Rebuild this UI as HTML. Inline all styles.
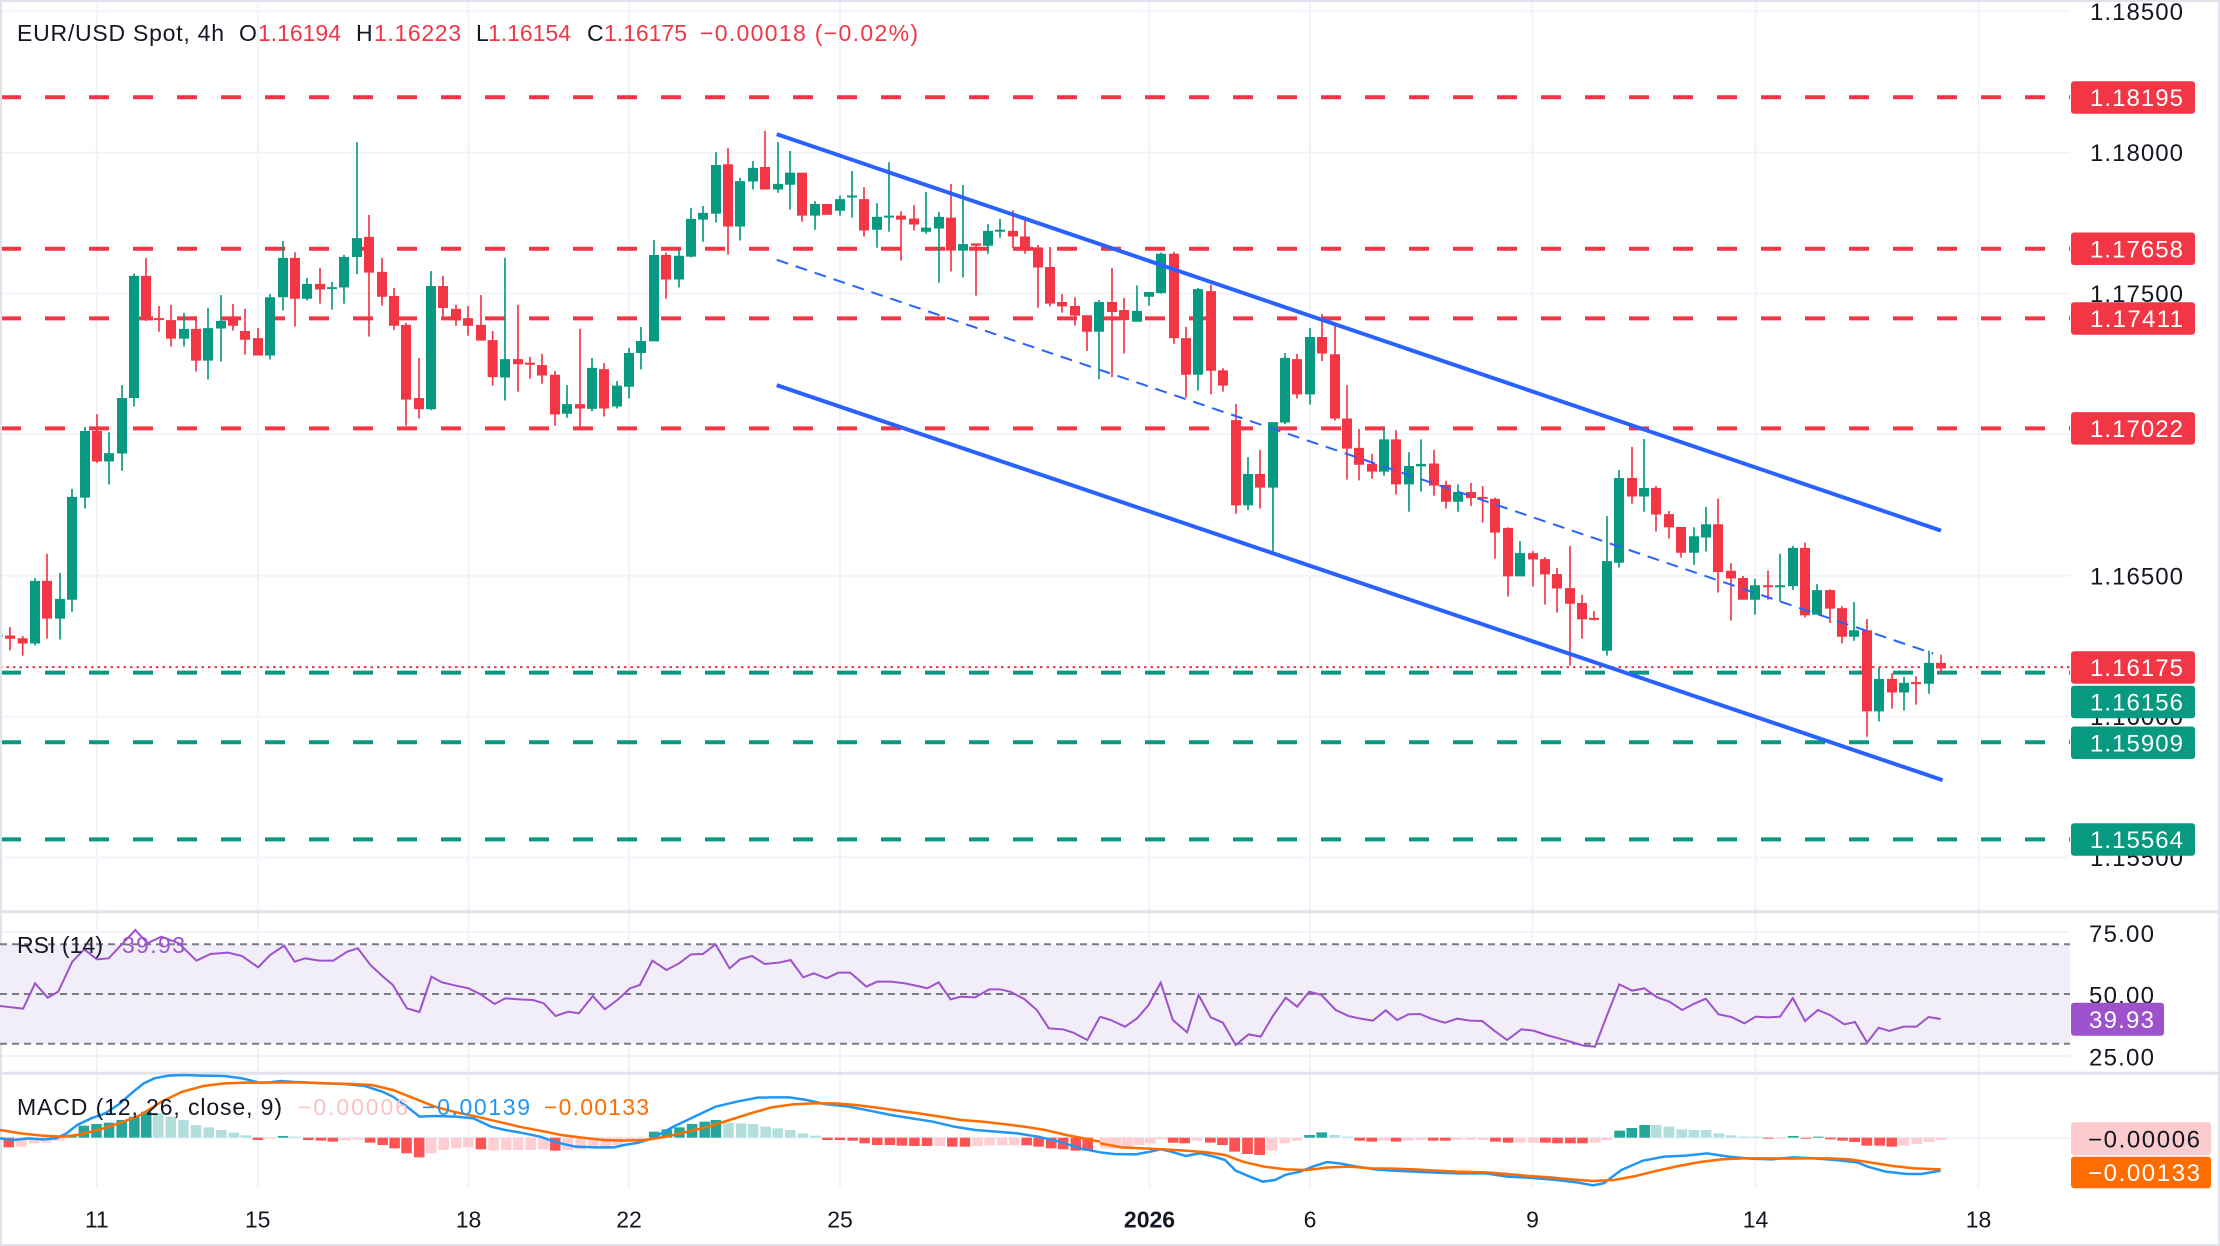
<!DOCTYPE html>
<html><head><meta charset="utf-8"><style>
html,body{margin:0;padding:0;background:#fff;}
svg{display:block;}
text{font-family:"Liberation Sans",Arial,sans-serif;}
</style></head><body>
<svg width="2220" height="1246" viewBox="0 0 2220 1246" xmlns="http://www.w3.org/2000/svg">
<rect x="0" y="0" width="2220" height="1246" fill="#ffffff"/>

<!-- gridlines -->
<g stroke="#f0f3fa" stroke-width="2">
<line x1="0" y1="11.2" x2="2070" y2="11.2"/>
<line x1="0" y1="152.6" x2="2070" y2="152.6"/>
<line x1="0" y1="293.5" x2="2070" y2="293.5"/>
<line x1="0" y1="433.8" x2="2070" y2="433.8"/>
<line x1="0" y1="575.8" x2="2070" y2="575.8"/>
<line x1="0" y1="716.6" x2="2070" y2="716.6"/>
<line x1="0" y1="857.5" x2="2070" y2="857.5"/>
<line x1="0" y1="931.7" x2="2070" y2="931.7"/>
<line x1="0" y1="1056" x2="2070" y2="1056"/>
<line x1="0" y1="1137.7" x2="2070" y2="1137.7"/>
<line x1="96.8" y1="0" x2="96.8" y2="1188"/>
<line x1="257.7" y1="0" x2="257.7" y2="1188"/>
<line x1="468.5" y1="0" x2="468.5" y2="1188"/>
<line x1="629" y1="0" x2="629" y2="1188"/>
<line x1="840" y1="0" x2="840" y2="1188"/>
<line x1="1149.5" y1="0" x2="1149.5" y2="1188"/>
<line x1="1310" y1="0" x2="1310" y2="1188"/>
<line x1="1532.5" y1="0" x2="1532.5" y2="1188"/>
<line x1="1755.5" y1="0" x2="1755.5" y2="1188"/>
<line x1="1978.5" y1="0" x2="1978.5" y2="1188"/>
</g>

<!-- level lines -->
<g stroke-width="4" stroke-dasharray="20 24">
<line x1="1" y1="97.2" x2="2070" y2="97.2" stroke="#f23645"/>
<line x1="1" y1="248.7" x2="2070" y2="248.7" stroke="#f23645"/>
<line x1="1" y1="318.4" x2="2070" y2="318.4" stroke="#f23645"/>
<line x1="1" y1="428.4" x2="2070" y2="428.4" stroke="#f23645"/>
<line x1="1" y1="672.6" x2="2070" y2="672.6" stroke="#089981"/>
<line x1="1" y1="742.2" x2="2070" y2="742.2" stroke="#089981"/>
<line x1="1" y1="839.4" x2="2070" y2="839.4" stroke="#089981"/>
</g>
<line x1="0" y1="667.1" x2="2070" y2="667.1" stroke="#f23645" stroke-width="2" stroke-dasharray="2.5 4"/>

<!-- candles zoom5 -->
<g transform="translate(0,120) scale(0.333333,0.401786)">
<path fill="#089981" d="M0,1281h8V1286h-8Z M102.5,1140h5V1308h-5Z M90,1147h30V1303h-30Z M177.5,1127h5V1293h-5Z M165,1192h30V1241h-30Z M213.5,918h5V1224h-5Z M201,938h30V1194h-30Z M252.5,764h5V967h-5Z M240,774h30V940h-30Z M324.5,777h5V907h-5Z M312,829h30V850h-30Z M363.5,660h5V873h-5Z M351,692h30V830h-30Z M399.5,382h5V713h-5Z M387,388h30V692h-30Z M549.5,480h5V564h-5Z M537,520h30V544h-30Z M621.5,468h5V646h-5Z M609,518h30V599h-30Z M660.5,436h5V601h-5Z M648,500h30V519h-30Z M807.5,433h5V596h-5Z M795,441h30V586h-30Z M846.5,301h5V474h-5Z M834,343h30V441h-30Z M918.5,393h5V449h-5Z M906,408h30V445h-30Z M993.5,403h5V472h-5Z M981,416h30V421h-30Z M1029.5,336h5V457h-5Z M1017,341h30V417h-30Z M1068.5,55h5V384h-5Z M1056,294h30V341h-30Z M1290.5,376h5V722h-5Z M1278,413h30V720h-30Z"/>
<path fill="#f23645" d="M27.5,1262h5V1320h-5Z M15,1283h30V1291h-30Z M65.5,1284h5V1333h-5Z M53,1290h30V1303h-30Z M138.5,1080h5V1291h-5Z M126,1147h30V1241h-30Z M288.5,732h5V853h-5Z M276,774h30V850h-30Z M435.5,343h5V500h-5Z M423,388h30V498h-30Z M474.5,463h5V527h-5Z M462,493h30V498h-30Z M510.5,460h5V564h-5Z M498,498h30V544h-30Z M585.5,488h5V626h-5Z M573,520h30V599h-30Z M696.5,458h5V524h-5Z M684,490h30V512h-30Z M732.5,470h5V584h-5Z M720,525h30V547h-30Z M771.5,518h5V586h-5Z M759,543h30V586h-30Z M882.5,329h5V514h-5Z M870,343h30V445h-30Z M957.5,368h5V457h-5Z M945,408h30V422h-30Z M1104.5,236h5V539h-5Z M1092,291h30V380h-30Z M1143.5,343h5V462h-5Z M1131,378h30V440h-30Z M1179.5,418h5V523h-5Z M1167,438h30V512h-30Z M1215.5,505h5V761h-5Z M1203,510h30V696h-30Z M1254.5,592h5V743h-5Z M1242,692h30V720h-30Z M1326.5,388h5V490h-5Z M1314,413h30V468h-30Z M1365.5,460h5V512h-5Z M1353,470h30V498h-30Z M1401.5,463h5V537h-5Z M1389,493h30V512h-30Z M1440.5,436h5V549h-5Z M1428,510h30V549h-30Z M1475.5,525h5V661h-5Z M1463,548h30V640h-30Z"/>
</g>
<!-- candles zoom6 -->
<g transform="translate(490,120) scale(0.333333,0.401786)">
<path fill="#089981" d="M42.5,343h5V698h-5Z M30,595h30V641h-30Z M228.5,660h5V741h-5Z M216,707h30V731h-30Z M303.5,592h5V725h-5Z M291,617h30V719h-30Z M378.5,650h5V718h-5Z M366,661h30V713h-30Z M414.5,567h5V693h-5Z M402,580h30V664h-30Z M450.5,515h5V621h-5Z M438,550h30V580h-30Z M489.5,299h5V551h-5Z M477,336h30V551h-30Z M564.5,323h5V417h-5Z M552,338h30V397h-30Z M600.5,219h5V342h-5Z M588,246h30V340h-30Z M636.5,214h5V303h-5Z M624,231h30V248h-30Z M675.5,80h5V255h-5Z M663,112h30V233h-30Z M747.5,144h5V300h-5Z M735,152h30V265h-30Z M786.5,102h5V173h-5Z M774,119h30V153h-30Z M861.5,55h5V181h-5Z M849,159h30V173h-30Z M897.5,77h5V223h-5Z M885,131h30V161h-30Z M972.5,202h5V273h-5Z M960,209h30V238h-30Z M1047.5,188h5V238h-5Z M1035,197h30V226h-30Z M1083.5,127h5V243h-5Z M1071,188h30V193h-30Z M1158.5,207h5V318h-5Z M1146,241h30V273h-30Z M1194.5,105h5V278h-5Z M1182,238h30V243h-30Z M1305.5,179h5V283h-5Z M1293,268h30V278h-30Z M1344.5,229h5V405h-5Z M1332,241h30V270h-30Z M1416.5,162h5V392h-5Z M1404,309h30V325h-30Z M1491.5,259h5V333h-5Z M1479,276h30V313h-30Z"/>
<path fill="#f23645" d="M81.5,460h5V676h-5Z M69,595h30V608h-30Z M117.5,590h5V644h-5Z M105,604h30V609h-30Z M153.5,582h5V656h-5Z M141,610h30V636h-30Z M192.5,625h5V761h-5Z M180,634h30V733h-30Z M267.5,520h5V768h-5Z M255,707h30V718h-30Z M339.5,605h5V738h-5Z M327,620h30V718h-30Z M525.5,330h5V445h-5Z M513,336h30V397h-30Z M711.5,70h5V335h-5Z M699,110h30V265h-30Z M822.5,27h5V173h-5Z M810,117h30V173h-30Z M933.5,131h5V253h-5Z M921,131h30V238h-30Z M996,209h30V236h-30Z M1119.5,167h5V290h-5Z M1107,197h30V275h-30Z M1230.5,227h5V350h-5Z M1218,238h30V248h-30Z M1269.5,212h5V275h-5Z M1257,245h30V260h-30Z M1380.5,159h5V377h-5Z M1368,243h30V325h-30Z M1455.5,307h5V437h-5Z M1443,307h30V313h-30Z"/>
</g>
<!-- candles zoom7 -->
<g transform="translate(980,120) scale(0.333333,0.401786)">
<path fill="#089981" d="M57.5,246h5V293h-5Z M45,273h30V278h-30Z M354.5,448h5V645h-5Z M342,453h30V527h-30Z M468.5,412h5V502h-5Z M456,475h30V502h-30Z M504.5,428h5V462h-5Z M492,428h30V440h-30Z M540.5,330h5V432h-5Z M528,333h30V431h-30Z M651.5,418h5V673h-5Z M639,421h30V634h-30Z M801.5,839h5V971h-5Z M789,881h30V959h-30Z M876.5,752h5V1073h-5Z M864,752h30V915h-30Z M912.5,580h5V757h-5Z M900,592h30V753h-30Z M987.5,518h5V708h-5Z M975,540h30V683h-30Z M1209.5,766h5V885h-5Z M1197,795h30V875h-30Z M1284.5,827h5V975h-5Z M1272,861h30V907h-30Z M1320.5,795h5V925h-5Z M1308,856h30V862h-30Z M1431.5,907h5V975h-5Z M1419,926h30V950h-30Z"/>
<path fill="#f23645" d="M96.5,225h5V319h-5Z M84,276h30V290h-30Z M132.5,240h5V333h-5Z M120,290h30V325h-30Z M171.5,311h5V467h-5Z M159,317h30V367h-30Z M207.5,316h5V464h-5Z M195,366h30V457h-30Z M243.5,433h5V479h-5Z M231,453h30V464h-30Z M282.5,441h5V512h-5Z M270,463h30V487h-30Z M318.5,486h5V575h-5Z M306,486h30V527h-30Z M393.5,368h5V640h-5Z M381,453h30V478h-30Z M429.5,443h5V581h-5Z M417,473h30V498h-30Z M579.5,328h5V557h-5Z M567,333h30V543h-30Z M615.5,515h5V691h-5Z M603,543h30V634h-30Z M690.5,410h5V683h-5Z M678,426h30V624h-30Z M726.5,618h5V676h-5Z M714,623h30V661h-30Z M765.5,707h5V980h-5Z M753,747h30V959h-30Z M837.5,821h5V967h-5Z M825,881h30V915h-30Z M948.5,582h5V693h-5Z M936,595h30V683h-30Z M1023.5,483h5V600h-5Z M1011,540h30V581h-30Z M1062.5,507h5V748h-5Z M1050,583h30V743h-30Z M1098.5,660h5V895h-5Z M1086,743h30V818h-30Z M1134.5,769h5V897h-5Z M1122,816h30V858h-30Z M1173.5,831h5V893h-5Z M1161,856h30V875h-30Z M1245.5,772h5V932h-5Z M1233,795h30V907h-30Z M1359.5,821h5V935h-5Z M1347,855h30V910h-30Z M1395.5,898h5V967h-5Z M1383,908h30V950h-30Z M1470.5,903h5V961h-5Z M1458,926h30V941h-30Z"/>
</g>
<!-- candles zoom8 -->
<g transform="translate(1470,120) scale(0.333333,0.401786)">
<path fill="#089981" d="M147.5,1048h5V1136h-5Z M135,1078h30V1136h-30Z M408.5,986h5V1333h-5Z M396,1098h30V1321h-30Z M444.5,871h5V1114h-5Z M432,891h30V1102h-30Z M519.5,794h5V975h-5Z M507,916h30V937h-30Z M669.5,1014h5V1107h-5Z M657,1036h30V1077h-30Z M705.5,963h5V1074h-5Z M693,1006h30V1039h-30Z M852.5,1142h5V1231h-5Z M840,1158h30V1194h-30Z M927.5,1080h5V1198h-5Z M915,1158h30V1163h-30Z M966.5,1060h5V1170h-5Z M954,1065h30V1160h-30Z M1038.5,1155h5V1231h-5Z M1026,1170h30V1231h-30Z M1149.5,1200h5V1296h-5Z M1137,1270h30V1286h-30Z M1224.5,1363h5V1497h-5Z M1212,1391h30V1472h-30Z M1299.5,1386h5V1470h-5Z M1287,1401h30V1425h-30Z M1374.5,1321h5V1428h-5Z M1362,1351h30V1403h-30Z"/>
<path fill="#f23645" d="M35.5,911h5V1002h-5Z M23,938h30V943h-30Z M72.5,940h5V1092h-5Z M60,943h30V1027h-30Z M111.5,1014h5V1186h-5Z M99,1015h30V1136h-30Z M186.5,1073h5V1161h-5Z M174,1078h30V1094h-30Z M222.5,1088h5V1206h-5Z M210,1093h30V1131h-30Z M258.5,1115h5V1226h-5Z M246,1130h30V1166h-30Z M297.5,1060h5V1358h-5Z M285,1165h30V1204h-30Z M333.5,1182h5V1291h-5Z M321,1202h30V1243h-30Z M369.5,1222h5V1246h-5Z M357,1239h30V1244h-30Z M483.5,814h5V955h-5Z M471,891h30V937h-30Z M555.5,911h5V1024h-5Z M543,916h30V982h-30Z M594.5,973h5V1042h-5Z M582,981h30V1014h-30Z M630.5,1013h5V1089h-5Z M618,1013h30V1077h-30Z M741.5,942h5V1176h-5Z M729,1006h30V1125h-30Z M780.5,1103h5V1246h-5Z M768,1122h30V1141h-30Z M816.5,1135h5V1194h-5Z M804,1140h30V1194h-30Z M891.5,1122h5V1194h-5Z M879,1158h30V1163h-30Z M1002.5,1052h5V1238h-5Z M990,1065h30V1233h-30Z M1077.5,1168h5V1252h-5Z M1065,1170h30V1216h-30Z M1113.5,1210h5V1303h-5Z M1101,1215h30V1286h-30Z M1188.5,1242h5V1535h-5Z M1176,1270h30V1472h-30Z M1263.5,1377h5V1465h-5Z M1251,1391h30V1425h-30Z M1335.5,1384h5V1455h-5Z M1323,1399h30V1404h-30Z M1410.5,1331h5V1378h-5Z M1398,1351h30V1365h-30Z"/>
</g>

<!-- channel -->
<line x1="776.7" y1="134.1" x2="1941" y2="530.6" stroke="#2962ff" stroke-width="4"/>
<line x1="776.7" y1="385.2" x2="1942.5" y2="780.1" stroke="#2962ff" stroke-width="4"/>
<line x1="776.7" y1="259.8" x2="1933.3" y2="653.6" stroke="#2962ff" stroke-width="2" stroke-dasharray="12 8"/>

<!-- header -->
<g font-size="23">
<text x="17" y="41" fill="#131722" textLength="207">EUR/USD Spot, 4h</text>
<text x="239" y="41" fill="#131722" textLength="19">O</text>
<text x="258" y="41" fill="#f23645" textLength="83">1.16194</text>
<text x="356" y="41" fill="#131722" textLength="18">H</text>
<text x="374" y="41" fill="#f23645" textLength="87">1.16223</text>
<text x="476" y="41" fill="#131722" textLength="12">L</text>
<text x="488" y="41" fill="#f23645" textLength="83">1.16154</text>
<text x="587" y="41" fill="#131722" textLength="17">C</text>
<text x="604" y="41" fill="#f23645" textLength="83">1.16175</text>
<text x="700" y="41" fill="#f23645" textLength="218">−0.00018 (−0.02%)</text>
</g>

<!-- price axis labels -->
<g font-size="24" fill="#131722">
<text x="2090" y="20" textLength="93">1.18500</text>
<text x="2090" y="161.2" textLength="93">1.18000</text>
<text x="2090" y="302.1" textLength="93">1.17500</text>
<text x="2090" y="584.4" textLength="93">1.16500</text>
<text x="2090" y="725.2" textLength="93">1.16000</text>
<text x="2090" y="866.1" textLength="93">1.15500</text>
</g>
<g>
<rect x="2071" y="81.2" width="124" height="32.5" rx="3" fill="#f23645"/>
<rect x="2071" y="232.5" width="124" height="32.5" rx="3" fill="#f23645"/>
<rect x="2071" y="302.2" width="124" height="32.5" rx="3" fill="#f23645"/>
<rect x="2071" y="412.1" width="124" height="32.5" rx="3" fill="#f23645"/>
<rect x="2071" y="651.3" width="124" height="32.5" rx="3" fill="#f23645"/>
<rect x="2071" y="685.8" width="124" height="32.5" rx="3" fill="#089981"/>
<rect x="2071" y="726.5" width="124" height="32.5" rx="3" fill="#089981"/>
<rect x="2071" y="823.2" width="124" height="32.5" rx="3" fill="#089981"/>
</g>
<g font-size="24" fill="#ffffff">
<text x="2090" y="106.1" textLength="93">1.18195</text>
<text x="2090" y="257.4" textLength="93">1.17658</text>
<text x="2090" y="327.1" textLength="93">1.17411</text>
<text x="2090" y="437" textLength="93">1.17022</text>
<text x="2090" y="676.2" textLength="93">1.16175</text>
<text x="2090" y="710.7" textLength="93">1.16156</text>
<text x="2090" y="751.4" textLength="93">1.15909</text>
<text x="2090" y="848.1" textLength="93">1.15564</text>
</g>

<!-- separators and frame -->
<g stroke="#e0e3eb" stroke-width="3">
<line x1="0" y1="911.7" x2="2220" y2="911.7"/>
<line x1="0" y1="1073.3" x2="2220" y2="1073.3"/>
</g>
<rect x="1" y="1" width="2218" height="1244" fill="none" stroke="#e0e3eb" stroke-width="2"/>

<!-- RSI panel -->
<rect x="0" y="944.3" width="2070" height="99.4" fill="#f2eef9"/>
<g stroke="#787b86" stroke-width="2" stroke-dasharray="7 5">
<line x1="0" y1="944.3" x2="2070" y2="944.3"/>
<line x1="0" y1="994" x2="2070" y2="994"/>
<line x1="0" y1="1043.7" x2="2070" y2="1043.7"/>
</g>
<g transform="translate(0,900) scale(0.701531,0.333333)">
<polyline fill="none" stroke="#9d52cc" stroke-width="2" vector-effect="non-scaling-stroke" points="0,318 33,326 50,250 68,293 83,275 103,185 120,148 138,178 155,175 175,130 193,90 210,130 230,110 255,130 280,182 300,162 325,158 345,168 368,202 385,165 405,137 420,185 435,175 455,182 475,182 495,155 510,145 528,195 545,228 560,255 580,325 598,336 615,230 630,247 650,257 668,265 685,283 705,312 720,295 740,298 760,300 775,310 792,348 810,335 825,340 845,288 862,328 880,300 898,265 912,255 930,182 950,210 968,190 985,163 1002,162 1020,133 1040,205 1055,178 1072,168 1090,192 1110,188 1127,180 1145,232 1160,220 1178,235 1195,218 1212,218 1235,260 1250,245 1270,245 1290,250 1308,258 1322,265 1338,247 1355,298 1370,290 1390,292 1410,268 1425,268 1440,275 1460,297 1478,330 1495,385 1515,388 1530,398 1550,420 1568,350"/>
</g>
<g transform="translate(1100,900) scale(0.714286,0.333333)">
<polyline fill="none" stroke="#9d52cc" stroke-width="2" vector-effect="non-scaling-stroke" points="0,350 15,360 35,380 52,355 68,315 85,248 102,360 122,397 138,285 155,352 172,368 190,435 208,403 225,410 242,348 260,293 276,320 293,275 310,285 330,330 348,348 365,356 382,362 400,331 416,360 432,343 448,342 465,357 483,368 500,356 518,362 535,363 552,392 570,420 590,388 607,392 625,405 642,415 660,426 677,437 693,440 710,345 727,253 745,272 762,265 780,292 797,305 815,330 832,311 848,296 866,343 884,351 902,370 918,350 935,352 952,350 970,294 987,363 1005,330 1022,345 1042,373 1057,366 1074,428 1090,383 1105,393 1125,380 1143,380 1160,351 1177,357"/>
</g>
<text x="17" y="953" font-size="23" fill="#131722" textLength="86">RSI (14)</text>
<text x="122" y="953" font-size="23" fill="#9d52cc" textLength="63">39.93</text>
<g font-size="24" fill="#131722">
<text x="2089" y="941.9" textLength="65">75.00</text>
<text x="2089" y="1003.6" textLength="65">50.00</text>
<text x="2089" y="1065.3" textLength="65">25.00</text>
</g>
<rect x="2071" y="1002.7" width="93" height="33" rx="3" fill="#9d52cc"/>
<text x="2089" y="1027.8" font-size="24" fill="#ffffff" textLength="65">39.93</text>

<!-- MACD histogram zoom3 -->
<g transform="translate(0,900) scale(0.701531,0.333333)">
<g fill="#ff5252">
<rect x="5" y="713" width="15" height="29"/>
<rect x="360" y="713" width="15" height="7"/><rect x="432" y="713" width="15" height="7"/><rect x="450" y="713" width="15" height="9"/><rect x="467" y="713" width="15" height="12"/><rect x="520" y="713" width="15" height="15"/><rect x="538" y="713" width="15" height="22"/><rect x="555" y="713" width="15" height="32"/><rect x="572" y="713" width="15" height="47"/><rect x="590" y="713" width="15" height="59"/><rect x="678" y="713" width="15" height="35"/><rect x="784" y="713" width="15" height="39"/>
<rect x="1172" y="713" width="15" height="7"/><rect x="1190" y="713" width="15" height="7"/><rect x="1208" y="713" width="15" height="9"/><rect x="1225" y="713" width="15" height="17"/><rect x="1243" y="713" width="15" height="22"/><rect x="1261" y="713" width="15" height="22"/><rect x="1278" y="713" width="15" height="24"/><rect x="1296" y="713" width="15" height="25"/><rect x="1314" y="713" width="15" height="25"/><rect x="1350" y="713" width="15" height="27"/><rect x="1368" y="713" width="15" height="27"/><rect x="1456" y="713" width="15" height="23"/><rect x="1473" y="713" width="15" height="27"/><rect x="1491" y="713" width="15" height="32"/><rect x="1508" y="713" width="15" height="35"/><rect x="1526" y="713" width="15" height="39"/><rect x="1543" y="713" width="15" height="39"/>
</g>
<g fill="#ffcdd2">
<rect x="23" y="713" width="15" height="27"/><rect x="41" y="713" width="15" height="17"/><rect x="59" y="713" width="15" height="15"/><rect x="77" y="713" width="15" height="9"/>
<rect x="378" y="713" width="15" height="3"/><rect x="485" y="713" width="15" height="8"/><rect x="503" y="713" width="15" height="6"/><rect x="607" y="713" width="15" height="47"/><rect x="625" y="713" width="15" height="37"/><rect x="643" y="713" width="15" height="32"/><rect x="660" y="713" width="15" height="29"/><rect x="696" y="713" width="15" height="39"/><rect x="714" y="713" width="15" height="37"/><rect x="731" y="713" width="15" height="37"/><rect x="749" y="713" width="15" height="37"/><rect x="767" y="713" width="15" height="35"/><rect x="802" y="713" width="15" height="37"/><rect x="820" y="713" width="15" height="35"/><rect x="838" y="713" width="15" height="32"/><rect x="856" y="713" width="15" height="27"/><rect x="873" y="713" width="15" height="22"/><rect x="891" y="713" width="15" height="12"/><rect x="908" y="713" width="15" height="5"/>
<rect x="1332" y="713" width="15" height="25"/><rect x="1386" y="713" width="15" height="25"/><rect x="1403" y="713" width="15" height="23"/><rect x="1421" y="713" width="15" height="23"/><rect x="1438" y="713" width="15" height="23"/>
</g>
<g fill="#26a69a">
<rect x="94" y="705" width="15" height="8"/><rect x="112" y="677" width="15" height="36"/><rect x="130" y="672" width="15" height="41"/><rect x="148" y="668" width="15" height="45"/><rect x="166" y="660" width="15" height="53"/><rect x="184" y="650" width="15" height="63"/><rect x="201" y="635" width="15" height="78"/>
<rect x="396" y="708" width="15" height="5"/>
<rect x="925" y="695" width="15" height="18"/><rect x="943" y="688" width="15" height="25"/><rect x="961" y="682" width="15" height="31"/><rect x="979" y="672" width="15" height="41"/><rect x="997" y="665" width="15" height="48"/><rect x="1013" y="660" width="15" height="53"/>
</g>
<g fill="#b2dfdb">
<rect x="218" y="640" width="15" height="73"/><rect x="236" y="650" width="15" height="63"/><rect x="254" y="660" width="15" height="53"/><rect x="272" y="675" width="15" height="38"/><rect x="290" y="682" width="15" height="31"/><rect x="308" y="690" width="15" height="23"/><rect x="326" y="698" width="15" height="15"/><rect x="343" y="706" width="15" height="7"/>
<rect x="414" y="710" width="15" height="3"/>
<rect x="1031" y="668" width="15" height="45"/><rect x="1049" y="670" width="15" height="43"/><rect x="1066" y="672" width="15" height="41"/><rect x="1084" y="680" width="15" height="33"/><rect x="1101" y="685" width="15" height="28"/><rect x="1119" y="690" width="15" height="23"/><rect x="1137" y="700" width="15" height="13"/><rect x="1155" y="707" width="15" height="6"/>
</g>
</g>
<!-- MACD histogram zoom4 -->
<g transform="translate(1100,900) scale(0.714286,0.333333)">
<g fill="#ff5252">
<rect x="95" y="713" width="15" height="15"/><rect x="111" y="713" width="15" height="17"/><rect x="147" y="713" width="15" height="15"/><rect x="164" y="713" width="15" height="22"/><rect x="181" y="713" width="15" height="42"/><rect x="199" y="713" width="15" height="49"/><rect x="216" y="713" width="15" height="52"/>
<rect x="356" y="713" width="15" height="9"/><rect x="373" y="713" width="15" height="12"/><rect x="407" y="713" width="15" height="12"/><rect x="459" y="713" width="15" height="9"/><rect x="476" y="713" width="15" height="9"/><rect x="546" y="713" width="15" height="12"/><rect x="564" y="713" width="15" height="15"/><rect x="616" y="713" width="15" height="15"/><rect x="633" y="713" width="15" height="17"/><rect x="651" y="713" width="15" height="17"/><rect x="668" y="713" width="15" height="17"/>
<rect x="928" y="713" width="15" height="3"/><rect x="981" y="713" width="15" height="3"/><rect x="1015" y="713" width="15" height="5"/><rect x="1032" y="713" width="15" height="9"/><rect x="1049" y="713" width="15" height="13"/><rect x="1066" y="713" width="15" height="24"/><rect x="1084" y="713" width="15" height="24"/><rect x="1101" y="713" width="15" height="27"/>
</g>
<g fill="#ffcdd2">
<rect x="0" y="713" width="15" height="32"/><rect x="15" y="713" width="15" height="32"/><rect x="31" y="713" width="15" height="29"/><rect x="47" y="713" width="15" height="22"/><rect x="63" y="713" width="15" height="17"/><rect x="79" y="713" width="15" height="5"/><rect x="128" y="713" width="15" height="9"/><rect x="233" y="713" width="15" height="39"/><rect x="251" y="713" width="15" height="17"/><rect x="268" y="713" width="15" height="9"/>
<rect x="391" y="713" width="15" height="9"/><rect x="424" y="713" width="15" height="9"/><rect x="442" y="713" width="15" height="7"/><rect x="493" y="713" width="15" height="7"/><rect x="511" y="713" width="15" height="7"/><rect x="529" y="713" width="15" height="7"/><rect x="581" y="713" width="15" height="15"/><rect x="599" y="713" width="15" height="15"/><rect x="686" y="713" width="15" height="15"/><rect x="702" y="713" width="15" height="7"/>
<rect x="946" y="713" width="15" height="3"/><rect x="1118" y="713" width="15" height="24"/><rect x="1136" y="713" width="15" height="19"/><rect x="1153" y="713" width="15" height="13"/><rect x="1170" y="713" width="15" height="7"/>
</g>
<g fill="#26a69a">
<rect x="286" y="705" width="15" height="8"/><rect x="303" y="697" width="15" height="16"/>
<rect x="720" y="692" width="15" height="21"/><rect x="737" y="684" width="15" height="29"/><rect x="755" y="675" width="15" height="38"/>
<rect x="963" y="708" width="15" height="5"/><rect x="998" y="710" width="15" height="3"/>
</g>
<g fill="#b2dfdb">
<rect x="321" y="705" width="15" height="8"/><rect x="339" y="710" width="15" height="3"/>
<rect x="771" y="675" width="15" height="38"/><rect x="789" y="680" width="15" height="33"/><rect x="807" y="688" width="15" height="25"/><rect x="824" y="690" width="15" height="23"/><rect x="841" y="690" width="15" height="23"/><rect x="859" y="700" width="15" height="13"/><rect x="876" y="706" width="15" height="7"/><rect x="894" y="710" width="15" height="3"/><rect x="911" y="710" width="15" height="3"/>
</g>
</g>

<!-- MACD lines -->
<g transform="translate(0,900) scale(0.701531,0.333333)" fill="none" stroke-width="2.5">
<polyline stroke="#2196f3" vector-effect="non-scaling-stroke" points="0,715 20,720 40,715 60,718 80,715 95,700 110,675 130,655 150,640 170,612 190,575 205,550 220,535 240,527 260,525 290,527 320,528 345,535 370,548 385,547 400,543 420,546 440,548 460,550 490,552 520,558 545,575 560,590 580,620 598,650 620,648 650,650 675,655 700,680 720,690 740,697 770,710 795,728 820,740 850,742 875,742 890,735 910,728 930,715 960,680 990,650 1020,620 1050,605 1080,593 1100,592 1125,592 1150,600 1175,612 1210,620 1240,632 1270,645 1300,655 1330,665 1360,680 1390,690 1420,695 1450,700 1480,710 1510,725 1540,745 1568,757"/>
<polyline stroke="#ff6d00" vector-effect="non-scaling-stroke" points="0,690 30,700 60,707 90,710 110,705 140,690 170,670 200,645 230,605 260,575 290,558 320,550 350,548 380,548 410,547 440,548 470,550 500,552 530,555 560,570 590,595 620,620 650,637 680,650 710,665 740,680 770,692 800,705 830,713 860,720 890,722 920,720 950,710 980,695 1010,680 1040,660 1070,640 1100,622 1130,613 1160,610 1190,610 1220,615 1250,623 1280,632 1310,640 1340,650 1370,660 1400,665 1430,672 1460,680 1490,690 1520,705 1545,715 1568,725"/>
</g>
<g transform="translate(1100,900) scale(0.714286,0.333333)" fill="none" stroke-width="2.5">
<polyline stroke="#2196f3" vector-effect="non-scaling-stroke" points="0,757 20,762 50,763 70,755 85,748 100,755 120,768 140,760 160,770 175,780 190,812 210,830 228,845 245,840 260,824 280,815 300,798 318,786 335,790 360,800 385,808 410,812 440,815 470,818 500,820 540,820 570,830 600,833 640,840 670,848 690,856 705,850 730,810 760,782 790,770 820,767 850,760 880,770 910,776 940,778 970,772 1000,775 1030,780 1060,787 1075,800 1100,815 1130,822 1150,822 1177,812"/>
<polyline stroke="#ff6d00" vector-effect="non-scaling-stroke" points="0,730 30,742 60,745 90,748 120,752 150,757 175,765 200,785 230,800 260,808 290,810 320,802 350,800 380,805 410,806 440,808 470,812 500,815 540,817 570,822 600,828 630,832 660,838 690,843 720,840 750,828 780,812 810,798 840,786 870,778 900,775 930,775 960,776 990,775 1020,775 1050,778 1080,788 1110,798 1140,805 1177,808"/>
</g>

<g font-size="23">
<text x="17" y="1115" fill="#131722" textLength="265">MACD (12, 26, close, 9)</text>
<text x="298" y="1115" fill="#f9c3c6" textLength="110">−0.00006</text>
<text x="422" y="1115" fill="#2196f3" textLength="108">−0.00139</text>
<text x="544" y="1115" fill="#ff6d00" textLength="105">−0.00133</text>
</g>
<rect x="2071" y="1122.3" width="140" height="33" rx="3" fill="#fccbcd"/>
<rect x="2071" y="1156.7" width="140" height="31.6" rx="3" fill="#ff6d00"/>
<text x="2088" y="1147.4" font-size="24" fill="#131722" textLength="112">−0.00006</text>
<text x="2088" y="1181.1" font-size="24" fill="#ffffff" textLength="112">−0.00133</text>

<!-- time axis -->
<g font-size="23" fill="#131722" text-anchor="middle">
<text x="96.8" y="1227.5">11</text>
<text x="257.7" y="1227.5">15</text>
<text x="468.5" y="1227.5">18</text>
<text x="629" y="1227.5">22</text>
<text x="840" y="1227.5">25</text>
<text x="1149.5" y="1227.5" font-weight="bold">2026</text>
<text x="1310" y="1227.5">6</text>
<text x="1532.5" y="1227.5">9</text>
<text x="1755.5" y="1227.5">14</text>
<text x="1978.5" y="1227.5">18</text>
</g>
</svg>
</body></html>
